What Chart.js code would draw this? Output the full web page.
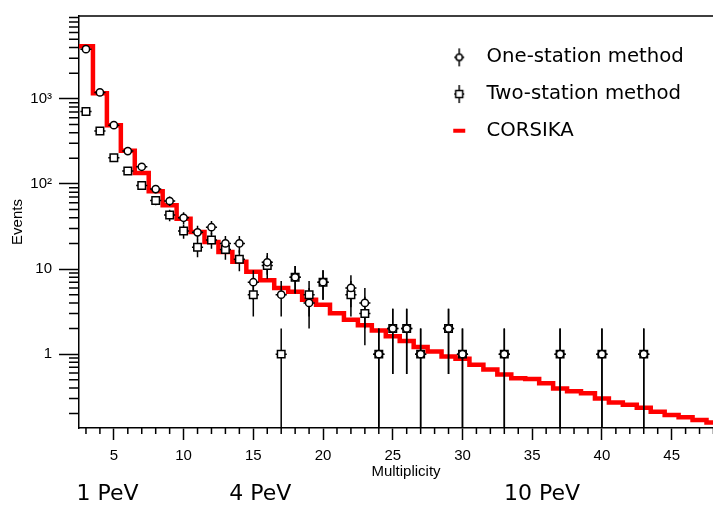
<!DOCTYPE html>
<html>
<head>
<meta charset="utf-8">
<script src="https://cdn.jsdelivr.net/npm/chart.js@4.4.1/dist/chart.umd.min.js"></script>
<style>
  html, body { margin: 0; padding: 0; background: #fff; overflow: hidden; }
  #wrap { width: 713px; height: 505px; overflow: hidden; }
</style>
</head>
<body>
<div id="wrap"><canvas id="Spectrum" width="733" height="505"></canvas></div>
<script>
// multiplicities where events were measured
let measuredN  = [3, 4, 5, 6, 7, 8, 9, 10, 11, 12, 13, 14, 15, 16, 17, 18, 19, 20,
                  22, 23, 24, 25, 26, 27, 29, 30, 33, 37, 40, 43];
let oneStation = [3830, 1190, 490, 243, 159, 87, 63, 40, 27, 31, 20, 20, 7, 12, 5, 8, 4, 7,
                  6, 4, 1, 2, 2, 1, 2, 1, 1, 1, 1, 1];
let twoStation = [710, 420, 203, 142, 96, 64, 43, 28, 18, 22, 17, 13, 5, 11, 1, 8, 5, 7,
                  5, 3, 1, 2, 2, 1, 2, 1, 1, 1, 1, 1];

// CORSIKA expectation, one value per multiplicity bin
let corsikaN = [3, 4, 5, 6, 7, 8, 9, 10, 11, 12, 13, 14, 15, 16, 17, 18, 19, 20, 21, 22, 23, 24, 25,
                26, 27, 28, 29, 30, 31, 32, 33, 34, 35, 36, 37, 38, 39, 40, 41, 42, 43, 44, 45, 46, 47, 48];
let corsika  = [4150, 1165, 490, 245, 134, 82, 56, 39, 27.2, 20.8, 15.9, 12.2, 9.3, 7.4, 6.0, 5.4,
                4.35, 3.8, 3.03, 2.54, 2.18, 1.89, 1.62, 1.43, 1.21, 1.07, 0.94, 0.88, 0.75, 0.66,
                0.575, 0.52, 0.51, 0.455, 0.395, 0.367, 0.348, 0.30, 0.27, 0.254, 0.234, 0.21,
                0.193, 0.181, 0.168, 0.157];

let xTicks = [5, 10, 15, 20, 25, 30, 35, 40, 45];
let yTicks = [1, 10, 100, 1000];
let yTickLabels = ['1', '10', '10²', '10³'];

let energyLabels = ['1 PeV', '4 PeV', '10 PeV'];
let energyAt = [4.55, 15.5, 35.7];

const tickFont = {family: 'Liberation Sans', size: 15};

// histogram drawn as steps from the bin edges
let corsikaSteps = corsikaN.map((n, i) => ({x: n - 0.5, y: corsika[i]}));
corsikaSteps.push({x: corsikaN[corsikaN.length - 1] + 0.5, y: corsika[corsika.length - 1]});

function legendMarker(kind) {
    const c = document.createElement('canvas');
    c.width = 22;
    c.height = 22;
    const g = c.getContext('2d');
    if (kind == 'line') {
        g.fillStyle = '#ff0000';
        g.fillRect(5, 9, 12, 4);
        return c;
    }
    g.strokeStyle = '#000';
    g.lineWidth = 1.5;
    g.beginPath();
    g.moveTo(11, 2); g.lineTo(11, 20);
    g.moveTo(6, 11); g.lineTo(16, 11);
    g.stroke();
    g.fillStyle = '#fff';
    g.beginPath();
    if (kind == 'circle') g.arc(11, 11, 3.2, 0, 2 * Math.PI);
    else g.rect(7.5, 7.5, 7, 7);
    g.fill();
    g.stroke();
    return c;
}
const markers = [legendMarker('circle'), legendMarker('rect'), legendMarker('line')];

// poisson error bars, drawn over the histogram but under the markers
const errorBars = {
    id: 'errorBars',
    afterDatasetDraw(chart, args) {
        if (args.index !== 2) return;
        const xs = chart.scales.x, ys = chart.scales.y, a = chart.chartArea, ctx = chart.ctx;
        ctx.save();
        ctx.beginPath();
        ctx.rect(a.left, a.top, a.right - a.left, a.bottom - a.top);
        ctx.clip();
        ctx.strokeStyle = '#000';
        ctx.lineWidth = 1.5;
        [oneStation, twoStation].forEach(vals => {
            measuredN.forEach((n, i) => {
                const v = vals[i];
                const e = Math.sqrt(v);
                const px = xs.getPixelForValue(n);
                const py = ys.getPixelForValue(v);
                const top = ys.getPixelForValue(v + e);
                const bot = (v - e) > 0 ? ys.getPixelForValue(v - e) : a.bottom;
                ctx.beginPath();
                ctx.moveTo(px, top); ctx.lineTo(px, bot);
                ctx.moveTo(xs.getPixelForValue(n - 0.4), py);
                ctx.lineTo(xs.getPixelForValue(n + 0.4), py);
                ctx.stroke();
            });
        });
        ctx.restore();
    }
};

// minor ticks, top frame line and the energy notes under the axis
const frameExtras = {
    id: 'frameExtras',
    afterDraw(chart) {
        const ctx = chart.ctx, a = chart.chartArea, x = chart.scales.x, y = chart.scales.y;
        ctx.save();
        ctx.strokeStyle = '#000';
        ctx.lineWidth = 1.5;
        ctx.beginPath();
        for (let n = Math.ceil(x.min); n <= x.max; n++) {
            if (n % 5 === 0) continue;
            const px = x.getPixelForValue(n);
            ctx.moveTo(px, a.bottom);
            ctx.lineTo(px, a.bottom + 6);
        }
        for (let d = -1; d <= 3; d++) {
            for (let m = 2; m <= 9; m++) {
                const v = m * Math.pow(10, d);
                if (v < y.min || v > y.max) continue;
                const py = y.getPixelForValue(v);
                ctx.moveTo(a.left - 10, py);
                ctx.lineTo(a.left, py);
            }
        }
        ctx.moveTo(a.left, a.top);
        ctx.lineTo(a.right, a.top);
        ctx.stroke();

        ctx.fillStyle = '#000';
        ctx.font = '22px "DejaVu Sans"';
        ctx.textAlign = 'center';
        ctx.textBaseline = 'alphabetic';
        energyLabels.forEach((t, i) => {
            ctx.fillText(t, x.getPixelForValue(energyAt[i]), 500);
        });
        ctx.restore();
    }
};

// legend sits inside the frame, top right
const legendPlace = {
    id: 'legendPlace',
    afterLayout(chart) {
        const lg = chart.legend;
        lg.left = 424.7;
        lg.top = 30.5;
        lg.right = lg.left + lg.width;
        lg.bottom = lg.top + lg.height;
    }
};

const spectrum = new Chart(document.getElementById('Spectrum'), {
    type: 'scatter',
    data: {
        datasets: [{
            label: 'One-station method',
            data: measuredN.map((n, i) => ({x: n, y: oneStation[i]})),
            pointStyle: 'circle',
            pointRadius: 3.6,
            pointBackgroundColor: '#fff',
            pointBorderColor: '#000',
            pointBorderWidth: 1.5
        },
        {
            label: 'Two-station method',
            data: measuredN.map((n, i) => ({x: n, y: twoStation[i]})),
            pointStyle: 'rect',
            pointRadius: 5.3,
            pointBackgroundColor: '#fff',
            pointBorderColor: '#000',
            pointBorderWidth: 1.5
        },
        {
            type: 'line',
            label: 'CORSIKA',
            data: corsikaSteps,
            stepped: true,
            fill: false,
            borderColor: '#ff0000',
            borderWidth: 4.5,
            pointRadius: 0
        }]
    },
    options: {
        responsive: false,
        animation: false,
        events: [],
        layout: {autoPadding: false, padding: {top: 12, left: 0, right: 0, bottom: 0}},
        scales: {
            x: {
                type: 'linear',
                min: 2.5,
                max: 49.4,
                afterBuildTicks: s => { s.ticks = xTicks.map(v => ({value: v})); },
                afterFit: s => { s.height = 77; },
                ticks: {font: tickFont, color: '#000', padding: 7, maxRotation: 0, autoSkip: false},
                grid: {drawOnChartArea: false, tickLength: 12, tickColor: '#000', tickWidth: 1.5},
                border: {color: '#000', width: 1.5},
                title: {display: true, text: 'Multiplicity', font: tickFont, color: '#000',
                        padding: {top: 0, bottom: 24}}
            },
            y: {
                type: 'logarithmic',
                min: 0.1355,
                max: 9400,
                bounds: 'data',
                afterBuildTicks: s => { s.ticks = yTicks.map(v => ({value: v})); },
                afterFit: s => { s.width = 79; },
                ticks: {
                    font: tickFont, color: '#000', padding: 7, autoSkip: false,
                    callback: v => yTickLabels[yTicks.indexOf(v)]
                },
                grid: {drawOnChartArea: false, tickLength: 20, tickColor: '#000', tickWidth: 1.5},
                border: {color: '#000', width: 1.5},
                title: {display: true, text: 'Events', font: tickFont, color: '#000',
                        padding: {top: 9, bottom: 0}}
            }
        },
        plugins: {
            tooltip: {enabled: false},
            legend: {
                position: 'chartArea',
                align: 'start',
                labels: {
                    usePointStyle: true,
                    pointStyleWidth: 35,
                    padding: 17,
                    color: '#000',
                    font: {family: 'DejaVu Sans', size: 19.7},
                    generateLabels: chart => chart.data.datasets.map((ds, i) => ({
                        text: ds.label,
                        pointStyle: markers[i],
                        fillStyle: '#fff',
                        strokeStyle: '#fff',
                        lineWidth: 0,
                        hidden: false,
                        datasetIndex: i,
                        fontColor: '#000'
                    }))
                }
            }
        }
    },
    plugins: [errorBars, frameExtras, legendPlace]
});
</script>
</body>
</html>
